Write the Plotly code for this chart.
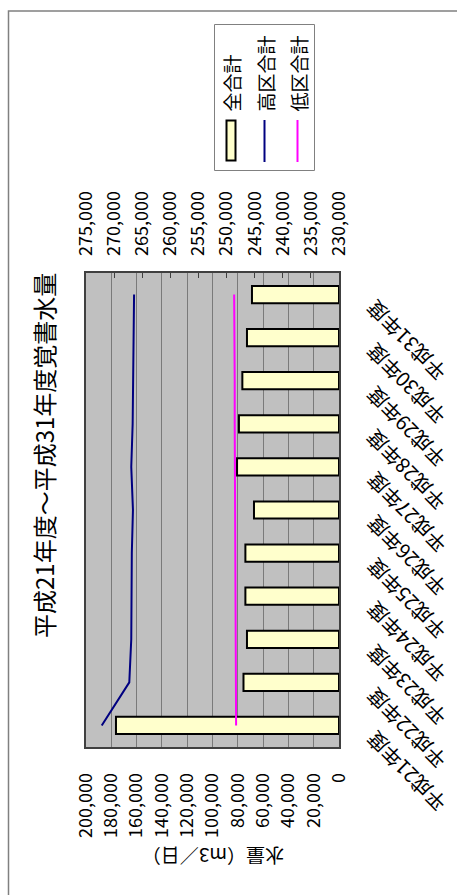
import plotly.graph_objects as go

# ---- data ----
categories = ["平成21年度", "平成22年度", "平成23年度", "平成24年度", "平成25年度",
              "平成26年度", "平成27年度", "平成28年度", "平成29年度", "平成30年度", "平成31年度"]
total_vals = [176300, 75500, 72750, 74000, 74000, 67200, 80600, 79100, 76400, 72750, 68800]
high_vals = [272200, 267300, 266950, 266900, 266850, 266650, 266950, 266700, 266600, 266500, 266450]
low_vals = [248300, 248350, 248400, 248400, 248450, 248450, 248500, 248550, 248550, 248600, 248650]
series_names = ["全合計", "高区合計", "低区合計"]
left_ticks = list(range(0, 200001, 20000))
right_ticks = list(range(230000, 275001, 5000))

W, H = 457, 895
ML, MR, MT, MB = 86, 118, 273, 148
PW, PH = W - ML - MR, H - MT - MB


def px(x):
    return (x - ML) / PW


def py(y):
    return (H - MB - y) / PH


FONT = "Noto Sans CJK JP, Liberation Sans, sans-serif"
BAR_FILL = "#FFFFCC"
BLUE = "#000080"
MAGENTA = "#FF00FF"

fig = go.Figure()
fig.add_trace(go.Bar(
    x=total_vals, y=categories, orientation="h", name=series_names[0],
    marker=dict(color=BAR_FILL, line=dict(color="black", width=2)),
    xaxis="x", yaxis="y", width=0.4, showlegend=False,
))
fig.add_trace(go.Scatter(
    x=high_vals, y=categories, mode="lines", name=series_names[1],
    line=dict(color=BLUE, width=2), xaxis="x2", yaxis="y", showlegend=False,
))
fig.add_trace(go.Scatter(
    x=low_vals, y=categories, mode="lines", name=series_names[2],
    line=dict(color=MAGENTA, width=2), xaxis="x2", yaxis="y", showlegend=False,
))

annotations = []
# category labels (rotated, reading toward the axis)
for c in categories:
    annotations.append(dict(
        x=px(357), y=c, xref="paper", yref="y", text=c, showarrow=False,
        textangle=-135, xanchor="left", yanchor="top", yshift=3,
        font=dict(family=FONT, size=20, color="black"),
    ))
# title
annotations.append(dict(
    x=px(43), y=py(456), xref="paper", yref="paper", text="平成21年度～平成31年度覚書水量",
    showarrow=False, textangle=-90, xanchor="center", yanchor="middle",
    font=dict(family=FONT, size=24, color="black"),
))
# value-axis title (upside down)
annotations.append(dict(
    x=px(213), y=py(857), xref="paper", yref="paper", text="水量（m3／日）",
    showarrow=False, textangle=180, xanchor="center", yanchor="middle",
    font=dict(family=FONT, size=19, color="black"),
))

# legend (drawn rotated)
shapes = []
shapes.append(dict(type="rect", xref="paper", yref="paper",
                   x0=px(8.5), x1=px(470), y0=py(11), y1=py(910),
                   line=dict(color="#808080", width=1.5), fillcolor="rgba(0,0,0,0)", layer="below"))
shapes.append(dict(type="rect", xref="paper", yref="paper",
                   x0=px(214.5), x1=px(314.5), y0=py(24.5), y1=py(170.5),
                   line=dict(color="#808080", width=1), fillcolor="white"))
shapes.append(dict(type="rect", xref="paper", yref="paper",
                   x0=px(226.5), x1=px(235.5), y0=py(120.5), y1=py(160.5),
                   line=dict(color="black", width=2), fillcolor=BAR_FILL))
shapes.append(dict(type="line", xref="paper", yref="paper",
                   x0=px(264.5), x1=px(264.5), y0=py(120), y1=py(162),
                   line=dict(color=BLUE, width=2)))
shapes.append(dict(type="line", xref="paper", yref="paper",
                   x0=px(297.5), x1=px(297.5), y0=py(120), y1=py(162),
                   line=dict(color=MAGENTA, width=2)))
for name, xc in zip(series_names, [231, 264.5, 297.5]):
    annotations.append(dict(
        x=px(xc), y=py(114), xref="paper", yref="paper", text=name, showarrow=False,
        textangle=-90, xanchor="center", yanchor="bottom",
        font=dict(family=FONT, size=19, color="black"),
    ))

fig.update_layout(
    width=W, height=H,
    margin=dict(l=ML, r=MR, t=MT, b=MB, pad=0),
    paper_bgcolor="white", plot_bgcolor="#C0C0C0",
    bargap=0.6,
    font=dict(family=FONT, size=18, color="black"),
    xaxis=dict(
        range=[200000, 0], tickvals=left_ticks, tickformat=",", tickangle=-90,
        side="bottom", showgrid=True, gridcolor="#7A7A7A", gridwidth=1,
        zeroline=False, showline=True, linecolor="#404040", linewidth=1.5, mirror=True,
        ticks="", ticklabelstandoff=17,
        tickfont=dict(family=FONT, size=18, color="black"),
    ),
    xaxis2=dict(
        range=[275000, 230000], tickvals=right_ticks, tickformat=",", tickangle=-90,
        side="top", overlaying="x", showgrid=False, zeroline=False,
        ticks="inside", ticklen=5, tickcolor="#404040",
        ticklabelstandoff=16,
        tickfont=dict(family=FONT, size=18, color="black"),
    ),
    yaxis=dict(
        type="category", categoryarray=categories, range=[-0.5, len(categories) - 0.5],
        showticklabels=False, showgrid=False, zeroline=False,
        showline=True, linecolor="#404040", linewidth=1.5, mirror=True, ticks="",
    ),
    annotations=annotations,
    shapes=shapes,
)

fig.write_html("out.html")
